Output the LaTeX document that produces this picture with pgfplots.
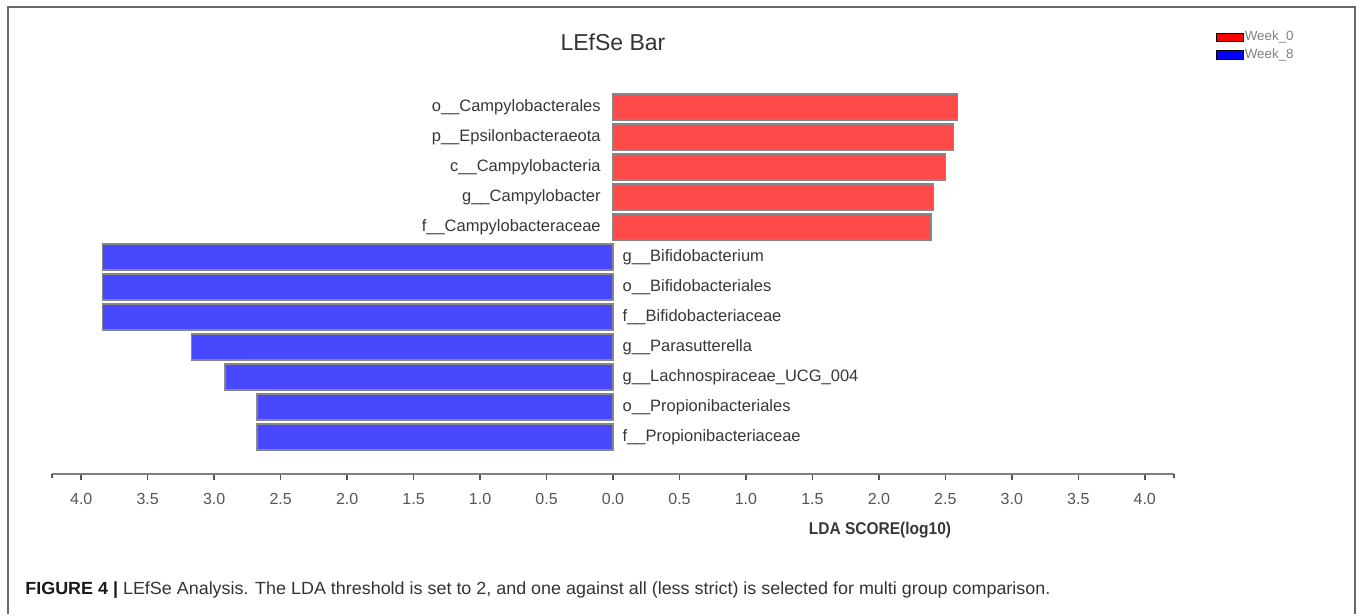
\documentclass[border=0pt]{standalone}
\usepackage{pgfplots}
\pgfplotsset{compat=1.18}
\usepackage{fontspec}
\setmainfont{Liberation Sans}
\usepackage{graphicx}
\definecolor{barred}{RGB}{255,74,74}
\definecolor{barblue}{RGB}{72,72,255}
\definecolor{edgegray}{RGB}{135,135,135}
\definecolor{framegray}{RGB}{105,105,105}
\definecolor{txt}{RGB}{55,55,55}
\definecolor{tickc}{RGB}{85,85,85}
\begin{document}
\begin{tikzpicture}
\begin{scope}[x=0.5pt,y=-0.5pt]
\path (0,0) rectangle (1358,614);
\draw[framegray, line width=1pt] (8,614) -- (8,7) -- (1355,7) -- (1355,614);
\node[font=\fontsize{11.5}{13}\selectfont, text=black!80] at (613,42) {LEfSe Bar};
\node[font=\fontsize{7.75}{9}\selectfont\bfseries, text=txt] at (880,530) {\scalebox{1}[1.1]{LDA SCORE(log10)}};
\node[anchor=west, inner sep=0pt] at (25,590) {\resizebox{512.5pt}{\height}{\fontsize{8.8}{10}\selectfont\color{black!90}\textbf{FIGURE 4 |} \color{black!80}LEfSe Analysis. The LDA threshold is set to 2, and one against all (less strict) is selected for multi group comparison.}};
\end{scope}
\begin{axis}[
  scale only axis, width=561pt, height=197pt,
  at={(26pt,-237pt)}, anchor=south west,
  xmin=-4.22, xmax=4.22, ymin=-12.233, ymax=0.9,
  axis x line=bottom, axis y line=none,
  axis line style={-, draw=gray, line width=0.75pt},
  xtick={-4,-3.5,-3,-2.5,-2,-1.5,-1,-0.5,0,0.5,1,1.5,2,2.5,3,3.5,4},
  xticklabels={4.0,3.5,3.0,2.5,2.0,1.5,1.0,0.5,0.0,0.5,1.0,1.5,2.0,2.5,3.0,3.5,4.0},
  /pgf/number format/assume math mode=true,
  tick align=outside, major tick length=3pt,
  tick style={draw=tickc, line width=0.75pt},
  xticklabel style={font=\fontsize{8}{9}\selectfont, text=tickc, anchor=center},
  xticklabel shift=9.5pt,
  extra x ticks={-4.22,4.22}, extra x tick labels={,},
  extra x tick style={major tick length=2pt},
  clip=false,
  legend style={at={(axis description cs:1.0374,1.1269)}, anchor=north west, draw=none, fill=none,
    font=\fontsize{6.7}{7}\selectfont, text=gray, inner sep=0pt, row sep=2pt,
    nodes={inner sep=0.3pt}},
  legend cell align=left,
]
\addplot[xbar, bar shift=0pt, bar width=13.2pt, fill=barred, draw=edgegray, line width=0.8pt, forget plot]
  coordinates {(2.59,0) (2.56,-1) (2.50,-2) (2.41,-3) (2.39,-4)};
\addplot[xbar, bar shift=0pt, bar width=13.2pt, fill=barblue, draw=edgegray, line width=0.8pt, forget plot]
  coordinates {(-3.84,-5) (-3.84,-6) (-3.84,-7) (-3.17,-8) (-2.92,-9) (-2.68,-10) (-2.68,-11)};
\addlegendimage{legend image code/.code={\draw[fill=red, draw=black, line width=0.4pt] (0pt,-2.2pt) rectangle (13.5pt,2.2pt);}}
\addlegendentry{Week\_0}
\addlegendimage{legend image code/.code={\draw[fill=blue, draw=black, line width=0.4pt] (0pt,-2.2pt) rectangle (13.5pt,2.2pt);}}
\addlegendentry{Week\_8}
\begin{scope}[every node/.style={font=\fontsize{8.25}{10}\selectfont, text=txt, inner sep=0pt}]
\node[anchor=east] at (axis cs:-0.09,0) {o\_\_Campylobacterales};
\node[anchor=east] at (axis cs:-0.09,-1) {p\_\_Epsilonbacteraeota};
\node[anchor=east] at (axis cs:-0.09,-2) {c\_\_Campylobacteria};
\node[anchor=east] at (axis cs:-0.09,-3) {g\_\_Campylobacter};
\node[anchor=east] at (axis cs:-0.09,-4) {f\_\_Campylobacteraceae};
\node[anchor=west] at (axis cs:0.07,-5) {g\_\_Bifidobacterium};
\node[anchor=west] at (axis cs:0.07,-6) {o\_\_Bifidobacteriales};
\node[anchor=west] at (axis cs:0.07,-7) {f\_\_Bifidobacteriaceae};
\node[anchor=west] at (axis cs:0.07,-8) {g\_\_Parasutterella};
\node[anchor=west] at (axis cs:0.07,-9) {g\_\_Lachnospiraceae\_UCG\_004};
\node[anchor=west] at (axis cs:0.07,-10) {o\_\_Propionibacteriales};
\node[anchor=west] at (axis cs:0.07,-11) {f\_\_Propionibacteriaceae};
\end{scope}
\end{axis}
\end{tikzpicture}
\end{document}
